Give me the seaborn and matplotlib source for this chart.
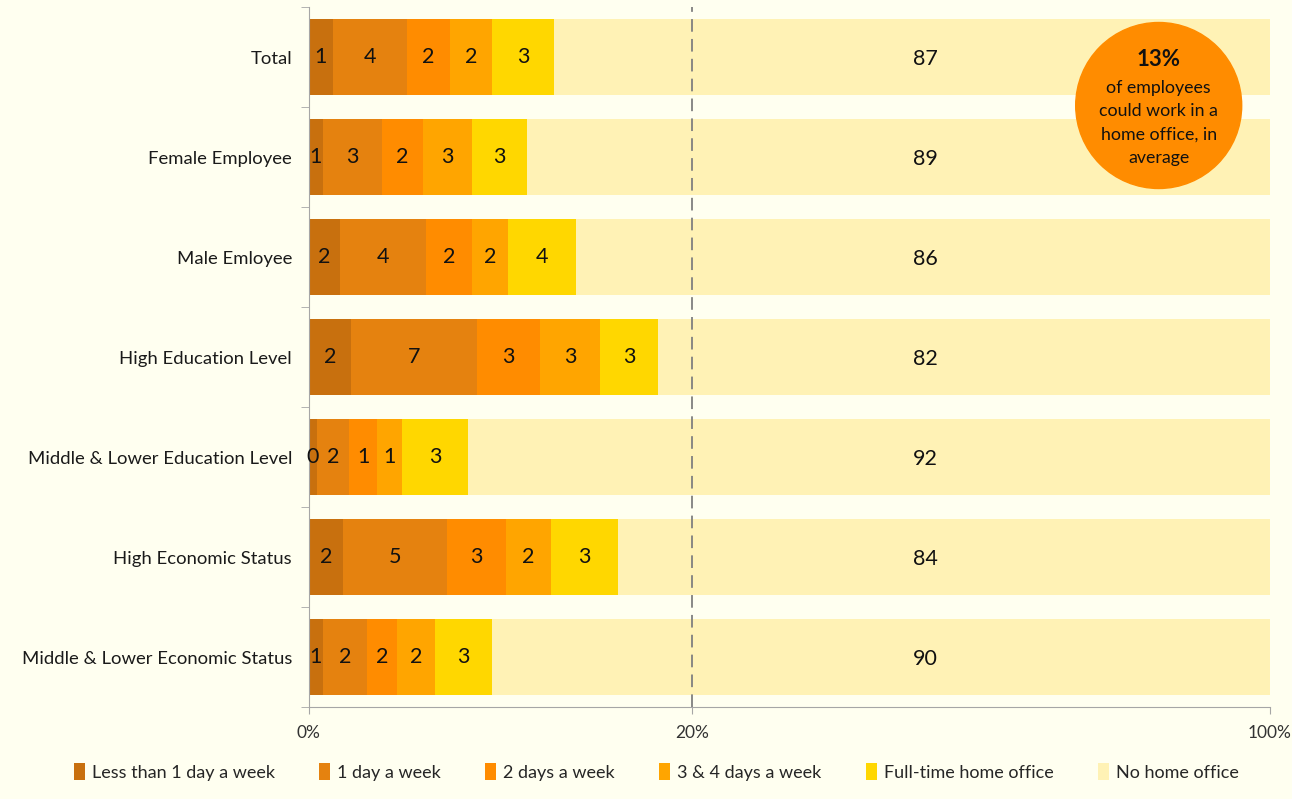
import numpy as np
import pandas as pd
import seaborn as sns
import matplotlib.pyplot as plt
import matplotlib.transforms as mtransforms
from matplotlib.patches import Ellipse, Patch


# values (share of employees, %)
groups = ['Total', 'Female Employee', 'Male Emloyee', 'High Education Level',
          'Middle & Lower Education Level', 'High Economic Status',
          'Middle & Lower Economic Status']
less_than_1 = [1.25, 0.73, 1.63, 2.21, 0.43, 1.79, 0.73]
one_day = [3.86, 3.09, 4.47, 6.57, 1.67, 5.43, 2.31]
two_days = [2.26, 2.14, 2.40, 3.27, 1.46, 3.08, 1.58]
three_four_days = [2.19, 2.56, 1.91, 3.15, 1.30, 2.33, 1.97]
full_time = [3.23, 2.85, 3.52, 3.03, 3.44, 3.48, 2.97]
no_home = [87.2, 88.6, 86.1, 81.8, 91.7, 83.9, 90.4]

series_names = ['Less than 1 day a week', '1 day a week', '2 days a week',
                '3 & 4 days a week', 'Full-time home office', 'No home office']
colors = ['#C8700E', '#E5820F', '#FF8C00', '#FFA500', '#FFD700', '#FFF2B5']

x_ticks = [0, 20, 100]
x_ticklabels = ['0%', '20%', '100%']
average_share = '13%'
average_text = 'of employees\ncould work in a\nhome office, in\naverage'

bg = '#FFFFF0'


# broken axis: 0-20% stretched, 20-100% squeezed
K1, K2, BREAK = 19.17, 7.22, 20.0


def forward(x):
    x = np.asarray(x, dtype=float)
    return np.where(x <= BREAK, x * K1, BREAK * K1 + (x - BREAK) * K2)


def inverse(y):
    y = np.asarray(y, dtype=float)
    return np.where(y <= BREAK * K1, y / K1, BREAK + (y - BREAK * K1) / K2)


def main():
    sns.set_style('ticks')
    plt.rcParams['font.family'] = ['Lato', 'DejaVu Sans']

    df = pd.DataFrame({'group': groups,
                       series_names[0]: less_than_1,
                       series_names[1]: one_day,
                       series_names[2]: two_days,
                       series_names[3]: three_four_days,
                       series_names[4]: full_time,
                       series_names[5]: no_home})
    stack = df[series_names].cumsum(axis=1)
    left = stack - df[series_names]

    fig, ax = plt.subplots(figsize=(12.92, 7.99), dpi=100)
    fig.subplots_adjust(left=0.239, right=0.983, bottom=0.115, top=0.991)
    fig.patch.set_facecolor(bg)
    ax.set_facecolor(bg)

    # stacked bars: draw the cumulative totals from the back to the front
    for name, color in reversed(list(zip(series_names, colors))):
        sns.barplot(x=stack[name], y=df['group'], color=color, saturation=1,
                    width=0.76, linewidth=0, errorbar=None, orient='h', ax=ax)

    ax.set_xscale('function', functions=(forward, inverse))
    ax.set_xlim(0, 100)
    ax.set_ylim(len(groups) - 0.5, -0.5)

    # value labels
    blended = mtransforms.blended_transform_factory(ax.transAxes, ax.transData)
    for i in range(len(groups)):
        for name in series_names[:-1]:
            v = df[name][i]
            ax.text(left[name][i] + v / 2, i, f'{v:.0f}', ha='center',
                    va='center', fontsize=15.5, color='#111111', zorder=4)
        ax.text(0.641, i + 0.02, f'{no_home[i]:.0f}', transform=blended,
                ha='center', va='center', fontsize=15.5, color='#111111',
                zorder=4)

    ax.axvline(BREAK, color='#7F7F7F', lw=1.3, ls=(0, (7, 4)), zorder=3)

    ax.set_xticks(x_ticks)
    ax.set_xticklabels(x_ticklabels)
    ax.set_xlabel('')
    ax.set_ylabel('')
    ax.set_yticks(np.arange(-0.5, len(groups), 1), minor=True)
    ax.tick_params(axis='y', which='major', length=0, pad=12, labelsize=13.3,
                   labelcolor='#1A1A1A')
    ax.tick_params(axis='y', which='minor', length=6, color='#A6A6A6')
    ax.tick_params(axis='x', length=5, pad=8, labelsize=12.5, color='#A6A6A6',
                   labelcolor='#333333')
    ax.xaxis.set_minor_locator(plt.NullLocator())
    for side in ['top', 'right']:
        ax.spines[side].set_visible(False)
    for side in ['left', 'bottom']:
        ax.spines[side].set_color('#A6A6A6')

    # highlight bubble
    cx, cy = 1158.7 / 1292, 1 - 105.5 / 799
    fig.add_artist(Ellipse((cx, cy), 166 / 1292, 166 / 799,
                           transform=fig.transFigure, color='#FF8C00',
                           zorder=5))
    fig.text(cx, 1 - 60 / 799, average_share, ha='center', va='center',
             fontsize=16, fontweight='bold', color='#111111', zorder=6)
    fig.text(cx, 1 - 123 / 799, average_text, ha='center', va='center',
             fontsize=12.8, linespacing=1.58, color='#111111', zorder=6)

    handles = [Patch(facecolor=c, edgecolor='none') for c in colors]
    fig.legend(handles, series_names, loc='center',
               bbox_to_anchor=(0.508, 1 - 772 / 799), ncol=6, frameon=False,
               handlelength=0.6, handleheight=1.0, handletextpad=0.4,
               columnspacing=2.45, fontsize=13)

    plt.savefig('out.png', dpi=100, facecolor=bg)


if __name__ == '__main__':
    main()
